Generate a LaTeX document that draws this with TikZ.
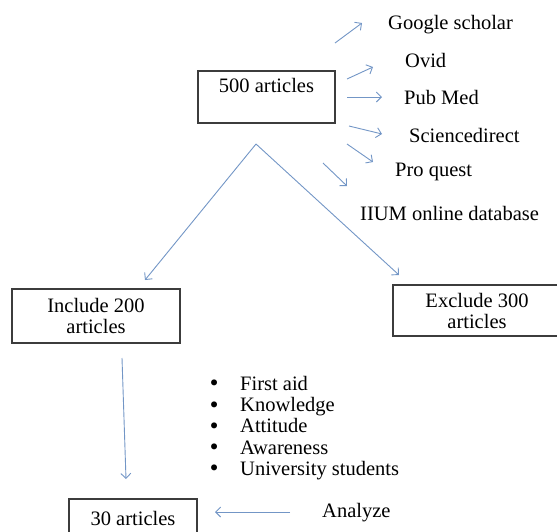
\documentclass[tikz,border=0pt]{standalone}
\usepackage{fontspec}
\setmainfont{Liberation Serif}
\newfontfamily\dejavu{DejaVu Sans}
\usetikzlibrary{arrows.meta}
\definecolor{arrowblue}{RGB}{115,150,198}
\definecolor{boxline}{RGB}{60,60,60}
\tikzset{
  conn/.style={draw=arrowblue, line width=0.9pt, -{Straight Barb[length=5pt,width=10pt]}},
  box/.style={draw=boxline, line width=1.1pt, inner sep=0pt, align=center,
    font=\fontsize{20.5}{21}\selectfont},
  txt/.style={inner sep=0pt, anchor=west, text height=16pt, text depth=2pt,
    font=\fontsize{20.5}{21}\selectfont},
  listtxt/.style={inner sep=0pt, anchor=north west, align=left,
    font=\fontsize{20.5}{21.3}\selectfont}
}
\newcommand{\bigdot}{\makebox[32pt][l]{\raisebox{-0.5pt}{\dejavu •}}}
\begin{document}
\begin{tikzpicture}[x=1pt,y=-1pt]
\useasboundingbox (0,0) rectangle (557,531);
% boxes
\node[box, minimum width=137pt, minimum height=52pt] (total) at (266.5,97) {500 articles\\[3pt]\mbox{}};
\node[box, minimum width=168pt, minimum height=54pt] (incl) at (96,316) {Include 200\\articles};
\node[box, minimum width=168pt, minimum height=51pt] (excl) at (477,310.5) {Exclude 300\\articles};
\node[box, minimum width=128pt, minimum height=38pt] (final) at (133,518) {30 articles};
% databases
\node[txt] (gs) at (388,22) {Google scholar};
\node[txt] (ovid) at (405,60) {Ovid};
\node[txt] (pm) at (404,97) {Pub Med};
\node[txt] (sd) at (409,135) {Sciencedirect};
\node[txt] (pq) at (395,169) {Pro quest};
\node[txt] (iium) at (360,213) {IIUM online database};
% keyword list
\node[listtxt] (keywords) at (208,375) {\rule{0pt}{15pt}\bigdot First aid\\
  \bigdot Knowledge\\
  \bigdot Attitude\\
  \bigdot Awareness\\
  \bigdot University students};
\node[txt] (analyze) at (322,510) {Analyze};
% arrow coordinates
\coordinate (gsA) at (335,43);  \coordinate (gsB) at (362,23);
\coordinate (ovA) at (347,79);  \coordinate (ovB) at (373,67);
\coordinate (pmA) at (347,97);  \coordinate (pmB) at (382,97);
\coordinate (sdA) at (349,126); \coordinate (sdB) at (382,134);
\coordinate (pqA) at (347,144); \coordinate (pqB) at (373,162);
\coordinate (iuA) at (323,163); \coordinate (iuB) at (347,186);
\coordinate (apex) at (256,144);
\coordinate (inTip) at (145,280);
\coordinate (exTip) at (399,275);
\coordinate (vA) at (122,358); \coordinate (vB) at (126,479);
\coordinate (anA) at (290,512); \coordinate (anB) at (215,512);
% arrows
\draw[conn] (gsA) -- (gsB);
\draw[conn] (ovA) -- (ovB);
\draw[conn] (pmA) -- (pmB);
\draw[conn] (sdA) -- (sdB);
\draw[conn] (pqA) -- (pqB);
\draw[conn] (iuA) -- (iuB);
\draw[conn] (apex) -- (inTip);
\draw[conn] (apex) -- (exTip);
\draw[conn] (vA) -- (vB);
\draw[conn] (anA) -- (anB);
\end{tikzpicture}
\end{document}
